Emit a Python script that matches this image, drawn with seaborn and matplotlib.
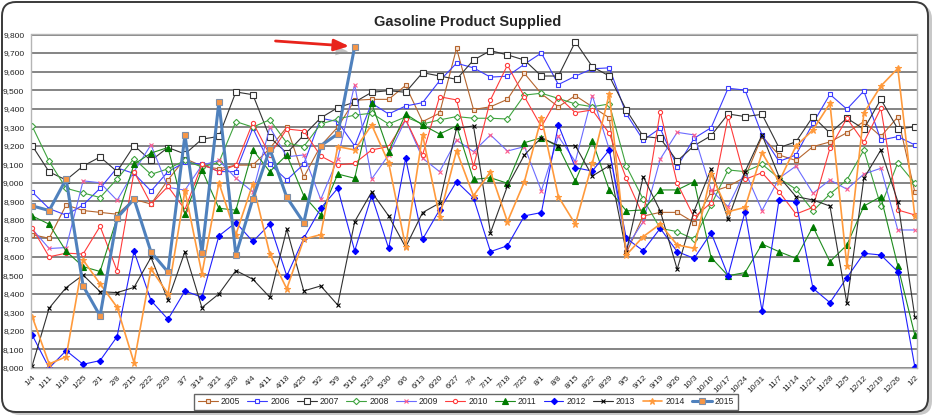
import matplotlib
matplotlib.use("Agg")
import matplotlib.pyplot as plt
import matplotlib.patheffects as pe
from matplotlib.patches import FancyBboxPatch
from matplotlib.transforms import IdentityTransform
import seaborn as sns

# weekly x labels (53 weeks, 1/4 ... 1/2)
week_labels = ["1/4", "1/11", "1/18", "1/25", "2/1", "2/8", "2/15", "2/22", "2/29", "3/7",
               "3/14", "3/21", "3/28", "4/4", "4/11", "4/18", "4/25", "5/2", "5/9", "5/16",
               "5/23", "5/30", "6/6", "6/13", "6/20", "6/27", "7/4", "7/11", "7/18", "7/25",
               "8/1", "8/8", "8/15", "8/22", "8/29", "9/5", "9/12", "9/19", "9/26", "10/3",
               "10/10", "10/17", "10/24", "10/31", "11/7", "11/14", "11/21", "11/28", "12/5",
               "12/12", "12/19", "12/26", "1/2"]

# gasoline product supplied, thousand b/d
y2005 = [8720, 8700, 8880, 8850, 8840, 8830, 8910, 8885, 9015, 9130, 9090, 9075, 9095, 9095, 9185, 9300, 9030,
         9200, 9300, 9445, 9450, 9450, 9525, 9330, 9375, 9725, 9395, 9410, 9450, 9590, 9480, 9410, 9470, 9410, 9350,
         8620, 8820, 8840, 8840, 8785, 8950, 8980, 9030, 9250, 9150, 9120, 9195, 9220, 9270, 9330, 9250, 9355, 8950]
y2006 = [8950, 8860, 8825, 8880, 8970, 9080, 9050, 8955, 9060, 9110, 9100, 9060, 9060, 9295, 9100, 9015, 9100,
         9348, 9330, 9198, 9429, 9371, 9414, 9432, 9550, 9645, 9620, 9570, 9575, 9640, 9700, 9530, 9575, 9615, 9620,
         9372, 9230, 9294, 9087, 9240, 9297, 9510, 9500, 9258, 9115, 9150, 9321, 9477, 9397, 9495, 9230, 9249, 9204]
y2007 = [9200, 9058, 9015, 9090, 9139, 9060, 9200, 9120, 9190, 9155, 9235, 9250, 9490, 9475, 9245, 9160, 9257,
         9350, 9405, 9435, 9488, 9497, 9488, 9594, 9576, 9558, 9662, 9713, 9690, 9662, 9576, 9576, 9761, 9626, 9576,
         9393, 9250, 9240, 9117, 9200, 9254, 9371, 9357, 9369, 9189, 9221, 9357, 9268, 9348, 9290, 9450, 9290, 9302]
y2008 = [9305, 9115, 8970, 8945, 8920, 9020, 9130, 9045, 9075, 9120, 9085, 9110, 9330, 9300, 9340, 9215, 9195,
         9317, 9344, 9365, 9375, 9317, 9355, 9317, 9339, 9357, 9348, 9348, 9344, 9473, 9483, 9455, 9425, 9410, 9425,
         9090, 8911, 8754, 8736, 8695, 8880, 9069, 9060, 9100, 9024, 8965, 8848, 8939, 9015, 9177, 8874, 9108, 8997]
y2009 = [8750, 8645, 8650, 9010, 9000, 8905, 9060, 9205, 8975, 8960, 9095, 9120, 9025, 8950, 9300, 9140, 9150,
         8910, 9130, 9530, 9020, 9150, 9340, 9132, 9060, 9230, 9168, 9258, 9171, 9195, 8957, 9250, 9114, 9470, 9180,
         8650, 8790, 9127, 9272, 9258, 8960, 8871, 9060, 8850, 9024, 9090, 8943, 9015, 8965, 9047, 9078, 8745, 8745]
y2010 = [8755, 8600, 8620, 8615, 8765, 8525, 9060, 8885, 8980, 8855, 9100, 9060, 9095, 9325, 9150, 9290, 9280,
         9144, 9096, 9105, 9177, 9195, 9342, 9150, 9464, 9447, 9087, 9447, 9635, 9464, 9302, 9464, 9378, 9393, 9266,
         9024, 8820, 9384, 8997, 8813, 8892, 9357, 9018, 9054, 8952, 8831, 8867, 9186, 9348, 9218, 9402, 8853, 8826]
y2011 = [8821, 8776, 8630, 8547, 8521, 8810, 9100, 9160, 9190, 8830, 9070, 8862, 8852, 9177, 9060, 9150, 8930,
         8826, 9047, 9024, 9429, 9168, 9371, 9312, 9263, 9306, 9018, 9027, 8997, 9216, 9243, 9195, 9009, 9227, 8961,
         8848, 8853, 8961, 8961, 9006, 8596, 8498, 8515, 8669, 8628, 8592, 8763, 8574, 8664, 8874, 8925, 8551, 8178]
y2012 = [8178, 8000, 8094, 8020, 8040, 8169, 8630, 8364, 8263, 8416, 8382, 8713, 8785, 8683, 8776, 8497, 8700,
         8862, 8970, 8632, 8930, 8646, 9132, 8695, 8853, 9006, 8918, 8628, 8660, 8821, 8839, 9312, 9081, 9063, 9177,
         8700, 8633, 8754, 8628, 8592, 8730, 8498, 8844, 8308, 8907, 8898, 8430, 8353, 8488, 8619, 8610, 8520, 8007]
y2013 = [8013, 8323, 8434, 8502, 8412, 8407, 8435, 8597, 8367, 8628, 8326, 8400, 8526, 8479, 8382, 8749, 8416,
         8443, 8340, 8790, 8950, 8821, 8652, 8839, 8890, 9294, 9306, 8730, 8982, 9150, 9243, 9200, 9200, 9036, 9092,
         8625, 9033, 8848, 8533, 8848, 9073, 8803, 9060, 9258, 9033, 8925, 8907, 8874, 8349, 9024, 9177, 8898, 8277]
y2014 = [8277, 8022, 8061, 8583, 8454, 8328, 8029, 8535, 8400, 8957, 8508, 9000, 8720, 8995, 8615, 8427, 8695,
         8720, 9195, 9177, 9312, 9108, 8655, 9258, 8817, 9173, 8929, 9060, 8790, 9006, 9350, 8925, 8776, 9105, 9480,
         8610, 8709, 8777, 8664, 8646, 9046, 8844, 8867, 9162, 9006, 9198, 9285, 9428, 8551, 9375, 9522, 9617, 8820]
y2015 = [8875, 8850, 9020, 8443, 8281, 8810, 8912, 8626, 8518, 9257, 8620, 9436, 8610, 8914, 9182, 8921, 8784,
         9200, 9263, 9735]

series = {"2005": y2005, "2006": y2006, "2007": y2007, "2008": y2008, "2009": y2009, "2010": y2010,
          "2011": y2011, "2012": y2012, "2013": y2013, "2014": y2014, "2015": y2015}

# line / marker look per year
styles = {
    "2005": dict(color="#B5652E", lw=0.8, marker="s", ms=3.0, mfc="#F6E3D6", mec="#B5652E"),
    "2006": dict(color="#3C3CFF", lw=0.8, marker="s", ms=2.8, mfc="white", mec="#3C3CFF"),
    "2007": dict(color="#333333", lw=0.8, marker="s", ms=4.8, mfc="white", mec="#333333"),
    "2008": dict(color="#3FA33F", lw=0.8, marker="D", ms=3.2, mfc="white", mec="#3FA33F"),
    "2009": dict(color="#6B6BFF", lw=0.8, marker="x", ms=3.0, mfc="#FF5C8A", mec="#FF5C8A"),
    "2010": dict(color="#FF3B3B", lw=0.8, marker="o", ms=3.0, mfc="white", mec="#FF3B3B"),
    "2011": dict(color="#1E8C1E", lw=0.8, marker="^", ms=3.8, mfc="#007A00", mec="#007A00"),
    "2012": dict(color="#2020FF", lw=0.8, marker="D", ms=3.2, mfc="#0000FF", mec="#0000FF"),
    "2013": dict(color="#303030", lw=0.8, marker="x", ms=3.0, mfc="#000000", mec="#000000"),
    "2014": dict(color="#FF9A3C", lw=1.2, marker="*", ms=4.6, mfc="#FF9A3C", mec="#FF9A3C"),
    "2015": dict(color="#4F81BD", lw=2.2, marker="s", ms=4.5, mfc="#F79646", mec="#7F8FA6"),
}

sns.set_style("white")
plt.rcParams["font.family"] = ["Liberation Sans", "DejaVu Sans"]

W, H = 933, 417
fig = plt.figure(figsize=(W / 100, H / 100), dpi=100)

# rounded outer frame with a soft shadow
shadow = FancyBboxPatch((6, 2), 926, 410, boxstyle="round,pad=0,rounding_size=14",
                        transform=IdentityTransform(), fc="#c8c8c8", ec="none", zorder=-11)
frame = FancyBboxPatch((2, 5), 926, 410, boxstyle="round,pad=0,rounding_size=14",
                       transform=IdentityTransform(), fc="white", ec="#3a3a3a", lw=1.4, zorder=-10)
fig.patches.extend([shadow, frame])

ax = fig.add_axes([30.5 / W, 1 - 368 / H, (916.5 - 30.5) / W, (368 - 34.5) / H])

for yr, vals in series.items():
    st = styles[yr]
    sns.lineplot(x=list(range(len(vals))), y=vals, ax=ax, label=yr, legend=False,
                 color=st["color"], lw=st["lw"], marker=st["marker"], ms=st["ms"],
                 mfc=st["mfc"], mec=st["mec"], mew=0.8)

ax.set_xlim(-0.1, len(week_labels) - 0.9)
ax.set_ylim(8000, 9800)
ax.set_xticks(range(len(week_labels)))
ax.set_xticklabels(week_labels, rotation=45, ha="right", rotation_mode="anchor", fontsize=6)
yt = list(range(8000, 9801, 100))
ax.set_yticks(yt)
ax.set_yticklabels([f"{v:,}" for v in yt], fontsize=6)
ax.tick_params(axis="both", length=2.5, pad=2, colors="#222222")
ax.set_xlabel("")
ax.set_ylabel("")
ax.yaxis.grid(True, color="#707070", lw=1.2)
ax.set_axisbelow(True)
for s in ax.spines.values():
    s.set_color("#b5b5b5")
    s.set_linewidth(1.0)

# red arrow pointing at the latest 2015 week
ann = ax.annotate("", xy=(len(y2015) - 1, y2015[-1]), xytext=(-57, 4), textcoords="offset points",
                  arrowprops=dict(arrowstyle="-|>,head_length=0.9,head_width=0.35", color="#E8231B",
                                  lw=2.0, shrinkA=0, shrinkB=4))
ann.arrow_patch.set_path_effects([pe.SimplePatchShadow(offset=(2, -4), shadow_rgbFace="#888888", alpha=0.5),
                                  pe.Normal()])

fig.text(468 / W, 1 - 22 / H, "Gasoline Product Supplied", ha="center", va="center",
         fontsize=10.5, fontweight="bold")

handles, labels = ax.get_legend_handles_labels()
leg = fig.legend(handles, labels, loc="center", bbox_to_anchor=(466 / W, 1 - 402 / H), ncol=11,
                 fontsize=6.2, frameon=True, fancybox=False, edgecolor="#404040",
                 handlelength=2.3, handletextpad=0.35, columnspacing=0.85, borderpad=0.4)
leg.get_frame().set_linewidth(1.0)

fig.savefig("out.png", dpi=100)
